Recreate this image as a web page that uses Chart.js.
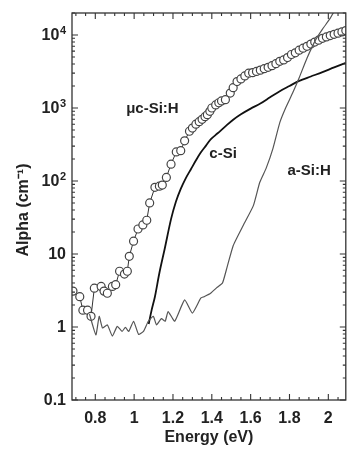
<!DOCTYPE html>
<html>
<head>
<meta charset="utf-8">
<script src="https://cdn.jsdelivr.net/npm/chart.js@4.4.1/dist/chart.umd.min.js"></script>
<style>
  html, body { margin: 0; padding: 0; background: #fff; }
  #wrap { width: 351px; height: 450px; }
</style>
</head>
<body>
<div id="wrap"><canvas id="chartCanvas" width="351" height="450"></canvas></div>
<script>
// photon energy (eV) and absorption coefficient (cm^-1)
const ucEnergy = [0.685, 0.72, 0.736, 0.76, 0.778, 0.795, 0.83, 0.845, 0.862, 0.888, 0.905, 0.925, 0.95, 0.965, 0.975, 0.997,
  1.02, 1.045, 1.065, 1.08, 1.107, 1.13, 1.145, 1.166, 1.19, 1.217, 1.24, 1.26, 1.285, 1.30, 1.318, 1.335, 1.35, 1.365,
  1.377, 1.39, 1.40, 1.42, 1.436, 1.45, 1.47, 1.495, 1.51, 1.53, 1.55, 1.57, 1.59, 1.61, 1.63, 1.65, 1.67, 1.69, 1.71,
  1.73, 1.75, 1.77, 1.79, 1.81, 1.83, 1.85, 1.87, 1.89, 1.91, 1.93, 1.95, 1.97, 1.99, 2.01, 2.03, 2.05, 2.07, 2.09, 2.11];
const ucAlpha = [3.1, 2.6, 1.7, 1.7, 1.4, 3.4, 3.6, 3.1, 2.9, 3.6, 3.8, 5.8, 5.3, 5.8, 9.3, 15,
  22, 25, 29, 50, 82, 85, 88, 112, 170, 250, 260, 355, 480, 530, 600, 650, 700, 760,
  810, 900, 1000, 1100, 1180, 1250, 1300, 1600, 1900, 2300, 2500, 2750, 3000, 3050, 3170, 3300, 3450, 3600, 3800,
  4050, 4350, 4550, 4900, 5400, 5700, 6200, 6600, 7000, 7500, 8000, 8500, 9000, 9400, 9800, 10200, 10600, 11000, 11500, 12000];

const cSiEnergy = [1.075, 1.09, 1.107, 1.13, 1.158, 1.19, 1.215, 1.24, 1.265, 1.293, 1.32, 1.343, 1.37, 1.394, 1.43,
  1.47, 1.51, 1.55, 1.60, 1.65, 1.70, 1.75, 1.80, 1.85, 1.91, 1.97, 2.03, 2.09];
const cSiAlpha = [1.1, 1.7, 2.6, 5.5, 12, 30, 52, 78, 108, 146, 195, 245, 305, 372, 450,
  560, 690, 820, 980, 1150, 1400, 1700, 2000, 2350, 2700, 3100, 3600, 4150];

const aSiEnergy = [0.77, 0.803, 0.82, 0.837, 0.862, 0.888, 0.913, 0.938, 0.955, 0.972, 0.997, 1.023, 1.048, 1.073,
  1.099, 1.115, 1.14, 1.16, 1.175, 1.209, 1.26, 1.30, 1.343, 1.36, 1.394, 1.428, 1.455, 1.478, 1.51, 1.563, 1.614,
  1.647, 1.68, 1.715, 1.75, 1.78, 1.816, 1.85, 1.89, 1.934, 1.97, 2.01, 2.03];
const aSiAlpha = [1.5, 0.78, 1.4, 0.97, 1.07, 0.75, 1.02, 0.87, 0.99, 0.87, 1.2, 0.79, 0.87, 1.2,
  1.4, 1.07, 1.3, 1.2, 1.63, 1.2, 2.35, 1.55, 2.48, 2.6, 2.9, 3.5, 4.0, 6.5, 13, 25, 46,
  96, 150, 280, 630, 1000, 1600, 2600, 4800, 8500, 12000, 17000, 21000];

const xTicks = [0.8, 1.0, 1.2, 1.4, 1.6, 1.8, 2.0];
const yTicks = [0.1, 1, 10, 100, 1000, 10000];
// y labels as [base, exponent]
const yTickLabels = [['0.1', ''], ['1', ''], ['10', ''], ['10', '2'], ['10', '3'], ['10', '4']];

// curve labels, anchored in data coordinates
const curveLabels = [
  { text: 'μc-Si:H', x: 1.094, y: 980 },
  { text: 'c-Si', x: 1.458, y: 233 },
  { text: 'a-Si:H', x: 1.901, y: 138 }
];

const FONT = '"Liberation Sans", Arial, Helvetica, sans-serif';

function pairs(xs, ys) {
  return xs.map((x, i) => ({ x: x, y: ys[i] }));
}

// inward ticks on all four sides, box frame, y labels, axis titles and curve labels
const framePlugin = {
  id: 'frame',
  afterDraw(chart) {
    const ctx = chart.ctx;
    const a = chart.chartArea;
    const xs = chart.scales.x, ys = chart.scales.y;
    ctx.save();
    ctx.strokeStyle = '#333';
    ctx.lineWidth = 1.3;
    ctx.strokeRect(a.left, a.top, a.right - a.left, a.bottom - a.top);

    ctx.lineWidth = 1.1;
    ctx.beginPath();
    for (let v = 0.7; v <= 2.1001; v += 0.05) {
      const major = xTicks.some(t => Math.abs(t - v) < 1e-6);
      const len = major ? 6 : 3;
      const px = xs.getPixelForValue(v);
      if (px < a.left + 1 || px > a.right - 1) continue;
      ctx.moveTo(px, a.bottom); ctx.lineTo(px, a.bottom - len);
      ctx.moveTo(px, a.top); ctx.lineTo(px, a.top + len);
    }
    for (let d = 0.1; d <= 10000; d *= 10) {
      for (let m = 1; m <= 9; m++) {
        const v = d * m;
        if (v > ys.max) break;
        const len = m === 1 ? 6 : 3;
        const py = ys.getPixelForValue(v);
        if (py < a.top) continue;
        ctx.moveTo(a.left, py); ctx.lineTo(a.left + len, py);
        ctx.moveTo(a.right, py); ctx.lineTo(a.right - len, py);
      }
    }
    ctx.stroke();

    ctx.fillStyle = '#222';
    ctx.textBaseline = 'middle';

    // y tick labels with real superscripts
    const rightEdge = a.left - 6;
    yTicks.forEach((v, i) => {
      const py = ys.getPixelForValue(v) + 1;
      const [base, exp] = yTickLabels[i];
      ctx.font = 'bold 11px ' + FONT;
      const ew = exp ? ctx.measureText(exp).width + 0.5 : 0;
      ctx.textAlign = 'right';
      if (exp) ctx.fillText(exp, rightEdge, py - 5);
      ctx.font = 'bold 16px ' + FONT;
      ctx.fillText(base, rightEdge - ew, py);
    });

    ctx.textAlign = 'center';
    ctx.font = 'bold 16px ' + FONT;
    ctx.fillText('Energy (eV)', (a.left + a.right) / 2, 438);
    ctx.save();
    ctx.translate(24, 210);
    ctx.rotate(-Math.PI / 2);
    ctx.fillText('Alpha (cm⁻¹)', 0, 0);
    ctx.restore();

    ctx.font = 'bold 15px ' + FONT;
    curveLabels.forEach(l => {
      ctx.fillText(l.text, xs.getPixelForValue(l.x), ys.getPixelForValue(l.y));
    });
    ctx.restore();
  }
};

function renderChart() {
  const ctx = document.getElementById('chartCanvas').getContext('2d');

  window.chart = new Chart(ctx, {
    type: 'scatter',
    data: {
      datasets: [
        {
          label: 'a-Si:H',
          data: pairs(aSiEnergy, aSiAlpha),
          borderColor: '#555',
          showLine: true,
          pointRadius: 0,
          borderWidth: 1.2,
          tension: 0.15
        },
        {
          label: 'c-Si',
          data: pairs(cSiEnergy, cSiAlpha),
          borderColor: '#111',
          showLine: true,
          pointRadius: 0,
          borderWidth: 1.8,
          tension: 0.3
        },
        {
          label: 'μc-Si:H',
          data: pairs(ucEnergy, ucAlpha),
          borderColor: '#333',
          backgroundColor: '#fff',
          pointBorderColor: '#444',
          pointBackgroundColor: '#fff',
          showLine: true,
          pointStyle: 'circle',
          pointRadius: 4,
          pointBorderWidth: 1.2,
          borderWidth: 1,
          tension: 0
        }
      ]
    },
    options: {
      responsive: false,
      animation: false,
      devicePixelRatio: 1,
      layout: { padding: { top: 13, right: 1, left: 0, bottom: 0 } },
      plugins: {
        legend: { display: false },
        tooltip: { enabled: false }
      },
      scales: {
        x: {
          type: 'linear',
          min: 0.68,
          max: 2.09,
          afterFit: s => { s.height = 50; },
          afterBuildTicks: s => { s.ticks = xTicks.map(v => ({ value: v })); },
          ticks: {
            color: '#222',
            padding: 9,
            maxRotation: 0,
            autoSkip: false,
            font: { family: FONT, size: 16, weight: 'bold' },
            callback: v => String(+Number(v).toFixed(1))
          },
          grid: { display: false, drawTicks: false },
          border: { display: false }
        },
        y: {
          type: 'logarithmic',
          min: 0.1,
          max: 20000,
          afterFit: s => { s.width = 72; },
          afterBuildTicks: s => { s.ticks = yTicks.map(v => ({ value: v })); },
          ticks: { display: false },
          grid: { display: false, drawTicks: false },
          border: { display: false }
        }
      }
    },
    plugins: [framePlugin]
  });
}

renderChart();
</script>
</body>
</html>
